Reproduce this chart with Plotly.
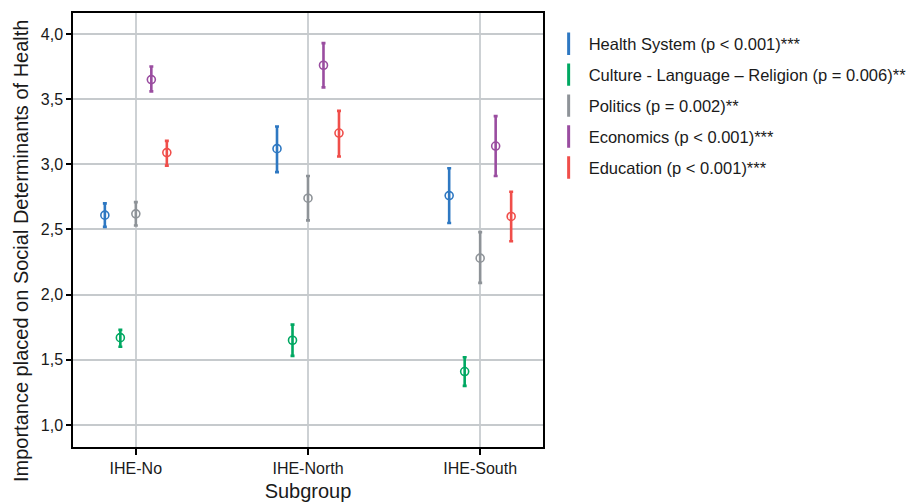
import plotly.graph_objects as go

subgroups = ["IHE-No", "IHE-North", "IHE-South"]
series_names = [
    "Health System (p < 0.001)***",
    "Culture - Language \u2013 Religion (p = 0.006)**",
    "Politics (p = 0.002)**",
    "Economics (p < 0.001)***",
    "Education (p < 0.001)***",
]
colors = ["#2E78C2", "#00A862", "#8E9398", "#9A4DA0", "#F04E4A"]

health_mean = [2.61, 3.12, 2.76]
health_low = [2.52, 2.94, 2.55]
health_high = [2.70, 3.29, 2.97]

culture_mean = [1.67, 1.65, 1.41]
culture_low = [1.60, 1.53, 1.30]
culture_high = [1.73, 1.77, 1.52]

politics_mean = [2.62, 2.74, 2.28]
politics_low = [2.53, 2.57, 2.09]
politics_high = [2.71, 2.91, 2.48]

economics_mean = [3.65, 3.76, 3.14]
economics_low = [3.56, 3.59, 2.91]
economics_high = [3.75, 3.93, 3.37]

education_mean = [3.09, 3.24, 2.60]
education_low = [2.99, 3.06, 2.41]
education_high = [3.18, 3.41, 2.79]

means = [health_mean, culture_mean, politics_mean, economics_mean, education_mean]
lows = [health_low, culture_low, politics_low, economics_low, education_low]
highs = [health_high, culture_high, politics_high, economics_high, education_high]

yticks = [1.0, 1.5, 2.0, 2.5, 3.0, 3.5, 4.0]
y_title = "Importance placed on Social Determinants of Health"
x_title = "Subgroup"

fig = go.Figure()
for i, name in enumerate(series_names):
    m, lo, hi = means[i], lows[i], highs[i]
    fig.add_trace(go.Scatter(
        x=subgroups, y=m, mode="markers", name=name,
        offsetgroup=str(i), showlegend=False,
        marker=dict(symbol="circle-open", size=8, color=colors[i],
                    line=dict(width=1.6, color=colors[i])),
        error_y=dict(type="data", symmetric=False,
                     array=[h - v for h, v in zip(hi, m)],
                     arrayminus=[v - l for v, l in zip(m, lo)],
                     color=colors[i], thickness=2.6, width=2),
    ))
for i, name in enumerate(series_names):
    fig.add_trace(go.Scatter(
        x=[None], y=[None], mode="markers", name=name,
        legendgroup=str(i), showlegend=True,
        marker=dict(symbol="line-ns", size=18, color=colors[i],
                    line=dict(width=3, color=colors[i])),
    ))

font_family = "Liberation Sans, Arial, sans-serif"
fig.update_layout(
    width=911, height=494,
    margin=dict(l=65, r=376, t=5, b=55, autoexpand=False),
    plot_bgcolor="white", paper_bgcolor="white",
    separators=",.",
    scattermode="group", scattergap=0.55,
    font=dict(family=font_family, color="#1a1a1a", size=16),
    legend=dict(x=1.012, xanchor="left", y=0.969, yanchor="top",
                font=dict(size=16.5, color="#1a1a1a"),
                tracegroupgap=6.5, bgcolor="rgba(0,0,0,0)"),
    xaxis=dict(
        type="category", range=[-0.365, 2.365], automargin=False,
        showgrid=True, gridcolor="#CDD1D4", gridwidth=1.5,
        showline=True, linecolor="black", linewidth=1.5, mirror=True,
        ticks="outside", ticklen=6, tickwidth=1.5, tickcolor="black",
        tickfont=dict(size=16),
        title=dict(text=x_title, font=dict(size=20), standoff=10),
        zeroline=False,
    ),
    yaxis=dict(
        range=[0.831, 4.161], tickvals=yticks, tickformat=".1f", automargin=False,
        showgrid=True, gridcolor="#C6CACD", gridwidth=2,
        showline=True, linecolor="black", linewidth=1.5, mirror=True,
        ticks="outside", ticklen=5, tickwidth=1.5, tickcolor="black",
        tickfont=dict(size=16),
        zeroline=False,
    ),
    annotations=[dict(
        text=y_title, textangle=-90, showarrow=False,
        xref="paper", yref="paper", x=-0.1106, y=0.4516,
        xanchor="center", yanchor="middle",
        font=dict(size=20, color="#1a1a1a"),
    )],
)

fig.write_html("out.html")
